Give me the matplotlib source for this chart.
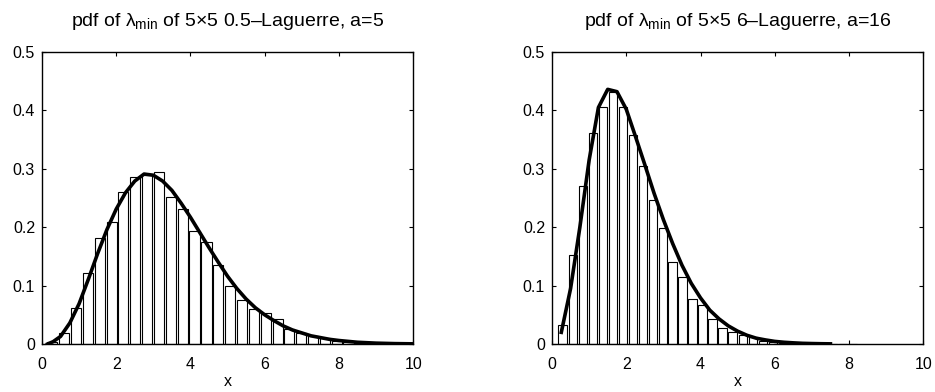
import matplotlib
matplotlib.use('Agg')
import matplotlib.pyplot as plt

plt.rcParams['font.family'] = ['Liberation Sans', 'DejaVu Sans']
plt.rcParams['mathtext.fontset'] = 'custom'
plt.rcParams['mathtext.rm'] = 'Liberation Sans'
plt.rcParams['mathtext.it'] = 'Liberation Sans'

# left panel: 5x5 0.5-Laguerre, a=5
left_title = r'pdf of $\lambda_{\rm min}$ of 5$\times$5 0.5–Laguerre, a=5'
left_centers = [0.28, 0.60, 0.92, 1.24, 1.56, 1.88, 2.19, 2.51, 2.83, 3.15,
                3.47, 3.79, 4.11, 4.43, 4.75, 5.07, 5.39, 5.71, 6.03, 6.35,
                6.66, 6.98, 7.30, 7.62, 7.94, 8.26, 8.58, 8.90, 9.21, 9.53]
left_counts = [0.004, 0.019, 0.061, 0.121, 0.182, 0.209, 0.261, 0.286, 0.289, 0.295,
               0.251, 0.232, 0.193, 0.175, 0.136, 0.100, 0.076, 0.060, 0.053, 0.042,
               0.026, 0.019, 0.014, 0.010, 0.006, 0.004, 0.002, 0.001, 0.0006, 0.0004]
left_x = [0.15, 0.3, 0.5, 0.75, 1.0, 1.25, 1.5, 1.75, 2.0, 2.25, 2.5, 2.75, 3.0,
          3.25, 3.5, 3.75, 4.0, 4.25, 4.5, 4.75, 5.0, 5.25, 5.5, 5.75, 6.0, 6.25,
          6.5, 6.75, 7.0, 7.25, 7.5, 7.75, 8.0, 8.5, 9.0, 9.5, 10.0]
left_pdf = [0.0, 0.004, 0.013, 0.036, 0.069, 0.111, 0.155, 0.196, 0.231, 0.259,
            0.279, 0.291, 0.289, 0.279, 0.263, 0.241, 0.217, 0.191, 0.165, 0.140,
            0.116, 0.095, 0.077, 0.062, 0.050, 0.040, 0.031, 0.024, 0.019, 0.014,
            0.011, 0.008, 0.006, 0.003, 0.0015, 0.0007, 0.0003]

# right panel: 5x5 6-Laguerre, a=16
right_title = r'pdf of $\lambda_{\rm min}$ of 5$\times$5 6–Laguerre, a=16'
right_centers = [0.29, 0.56, 0.83, 1.10, 1.37, 1.64, 1.91, 2.18, 2.45, 2.72,
                 2.99, 3.25, 3.52, 3.79, 4.06, 4.33, 4.60, 4.87, 5.14, 5.41,
                 5.68, 5.95, 6.22, 6.49, 6.76, 7.03, 7.30, 7.57, 7.84, 8.11]
right_counts = [0.033, 0.152, 0.270, 0.361, 0.406, 0.432, 0.406, 0.358, 0.304, 0.246,
                0.199, 0.141, 0.114, 0.077, 0.066, 0.042, 0.027, 0.020, 0.016, 0.0125,
                0.006, 0.004, 0.002, 0.001, 0.0007, 0.0004, 0.0002, 0.0001, 0.0001, 0.0001]
right_x = [0.25, 0.5, 0.75, 1.0, 1.25, 1.5, 1.75, 2.0, 2.25, 2.5, 2.75, 3.0, 3.25,
           3.5, 3.75, 4.0, 4.25, 4.5, 4.75, 5.0, 5.25, 5.5, 5.75, 6.0, 6.25, 6.5,
           6.75, 7.0, 7.25, 7.5]
right_pdf = [0.020, 0.095, 0.200, 0.315, 0.405, 0.436, 0.432, 0.402, 0.355, 0.307,
             0.258, 0.213, 0.172, 0.135, 0.104, 0.079, 0.058, 0.043, 0.031, 0.022,
             0.015, 0.010, 0.007, 0.0045, 0.003, 0.002, 0.0012, 0.0008, 0.0005, 0.0003]

xticks = [0, 2, 4, 6, 8, 10]
yticks = [0, 0.1, 0.2, 0.3, 0.4, 0.5]
yticklabels = ['0', '0.1', '0.2', '0.3', '0.4', '0.5']

fig = plt.figure(figsize=(9.35, 3.92), dpi=100)
ax1 = fig.add_axes([0.0449, 0.1224, 0.397, 0.745])
ax2 = fig.add_axes([0.5904, 0.1224, 0.397, 0.745])


def draw_panel(ax, title, centers, counts, xs, pdf):
    pitch = centers[1] - centers[0]
    ax.bar(centers, counts, width=0.86 * pitch, facecolor='white',
           edgecolor='black', linewidth=0.8, zorder=2)
    ax.plot(xs, pdf, color='black', linewidth=2.6, zorder=3)
    ax.set_xlim(0, 10)
    ax.set_ylim(0, 0.5)
    ax.set_xticks(xticks)
    ax.set_yticks(yticks)
    ax.set_yticklabels(yticklabels)
    ax.tick_params(direction='in', top=True, right=True, length=3,
                   width=0.8, labelsize=11.5)
    ax.tick_params(axis='x', pad=9)
    ax.tick_params(axis='y', pad=5)
    for s in ax.spines.values():
        s.set_linewidth(1.0)
    ax.set_xlabel('x', fontsize=11.5, labelpad=2)
    ax.set_title(title, fontsize=14, pad=19)


draw_panel(ax1, left_title, left_centers, left_counts, left_x, left_pdf)
draw_panel(ax2, right_title, right_centers, right_counts, right_x, right_pdf)

fig.savefig('out.png', dpi=100)
